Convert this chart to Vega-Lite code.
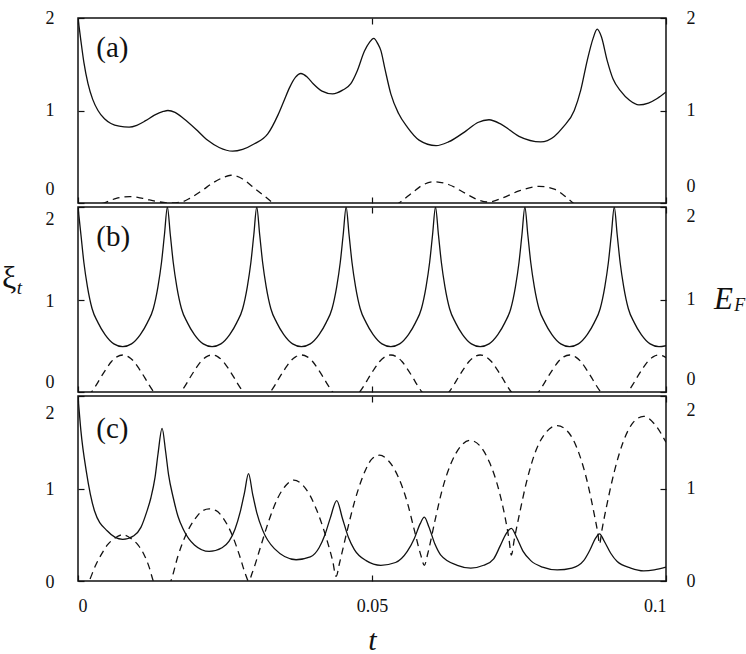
{
  "$schema": "https://vega.github.io/schema/vega-lite/v6.json",
  "background": "white",
  "padding": {"left": 1, "top": 8, "right": 0, "bottom": 0},
  "spacing": 0,
  "config": {
    "font": "Times New Roman, Liberation Serif, serif",
    "view": {"stroke": "#111", "strokeWidth": 1.5},
    "axis": {"domain": false, "grid": false, "tickColor": "#111", "tickWidth": 1.2, "tickSize": -6, "labelFont": "Times New Roman, Liberation Serif, serif", "labelFontSize": 18, "labelColor": "#111", "titleFont": "Times New Roman, Liberation Serif, serif", "titleColor": "#111"},
    "text": {"color": "#111", "font": "Times New Roman, Liberation Serif, serif"}
  },
  "datasets": {
    "a_xi": [
      {"t":0,"v":2},{"t":0.0005,"v":1.75},{"t":0.001,"v":1.52},{"t":0.0017,"v":1.29},{"t":0.0025,"v":1.12},{"t":0.0034,"v":1.0},{"t":0.0045,"v":0.91},{"t":0.0056,"v":0.86},{"t":0.007,"v":0.83},{"t":0.0087,"v":0.82},{"t":0.01,"v":0.84},{"t":0.0115,"v":0.89},{"t":0.013,"v":0.95},{"t":0.0145,"v":0.99},{"t":0.0153,"v":1.0},{"t":0.0165,"v":0.98},{"t":0.018,"v":0.91},{"t":0.02,"v":0.8},{"t":0.022,"v":0.68},{"t":0.024,"v":0.6},{"t":0.0263,"v":0.56},{"t":0.028,"v":0.58},{"t":0.03,"v":0.64},{"t":0.0323,"v":0.75},{"t":0.034,"v":0.95},{"t":0.035,"v":1.1},{"t":0.036,"v":1.25},{"t":0.037,"v":1.36},{"t":0.0379,"v":1.4},{"t":0.039,"v":1.36},{"t":0.04,"v":1.29},{"t":0.0415,"v":1.21},{"t":0.0433,"v":1.18},{"t":0.045,"v":1.22},{"t":0.0464,"v":1.29},{"t":0.0475,"v":1.43},{"t":0.0487,"v":1.64},{"t":0.0496,"v":1.74},{"t":0.0503,"v":1.78},{"t":0.051,"v":1.72},{"t":0.0515,"v":1.65},{"t":0.0522,"v":1.45},{"t":0.0532,"v":1.18},{"t":0.0545,"v":0.97},{"t":0.056,"v":0.82},{"t":0.058,"v":0.68},{"t":0.0609,"v":0.62},{"t":0.063,"v":0.66},{"t":0.066,"v":0.78},{"t":0.068,"v":0.87},{"t":0.0699,"v":0.9},{"t":0.072,"v":0.85},{"t":0.075,"v":0.72},{"t":0.0787,"v":0.66},{"t":0.081,"v":0.72},{"t":0.0825,"v":0.82},{"t":0.0844,"v":1.0},{"t":0.0855,"v":1.22},{"t":0.0866,"v":1.54},{"t":0.0876,"v":1.78},{"t":0.0883,"v":1.88},{"t":0.089,"v":1.8},{"t":0.09,"v":1.54},{"t":0.091,"v":1.34},{"t":0.0923,"v":1.21},{"t":0.0938,"v":1.11},{"t":0.0954,"v":1.06},{"t":0.097,"v":1.08},{"t":0.0985,"v":1.13},{"t":0.1,"v":1.2}
    ],
    "a_ef": [
      {"t":0,"v":-0.06},{"t":0.002,"v":-0.03},{"t":0.0044,"v":0},{"t":0.0065,"v":0.05},{"t":0.0088,"v":0.07},{"t":0.011,"v":0.05},{"t":0.0135,"v":0.015},{"t":0.016,"v":0},{"t":0.0178,"v":0.015},{"t":0.019,"v":0.05},{"t":0.021,"v":0.13},{"t":0.023,"v":0.22},{"t":0.0245,"v":0.27},{"t":0.026,"v":0.3},{"t":0.028,"v":0.26},{"t":0.03,"v":0.16},{"t":0.0318,"v":0.07},{"t":0.0331,"v":0},{"t":0.035,"v":-0.12},{"t":0.04,"v":-0.25},{"t":0.045,"v":-0.25},{"t":0.05,"v":-0.14},{"t":0.0546,"v":0},{"t":0.057,"v":0.12},{"t":0.0585,"v":0.19},{"t":0.0606,"v":0.23},{"t":0.063,"v":0.2},{"t":0.066,"v":0.1},{"t":0.068,"v":0.035},{"t":0.0699,"v":0.01},{"t":0.072,"v":0.05},{"t":0.075,"v":0.13},{"t":0.0784,"v":0.18},{"t":0.081,"v":0.15},{"t":0.0825,"v":0.09},{"t":0.0842,"v":0},{"t":0.087,"v":-0.12},{"t":0.093,"v":-0.25},{"t":0.1,"v":-0.2}
    ],
    "b_xi": [
      {"t":0,"v":2},{"t":0.0005,"v":1.7},{"t":0.001,"v":1.4},{"t":0.0016,"v":1.14},{"t":0.0024,"v":0.9},{"t":0.0034,"v":0.75},{"t":0.0046,"v":0.62},{"t":0.0061,"v":0.52},{"t":0.0076,"v":0.49},{"t":0.0091,"v":0.52},{"t":0.0106,"v":0.62},{"t":0.0118,"v":0.75},{"t":0.0128,"v":0.9},{"t":0.0136,"v":1.14},{"t":0.0142,"v":1.4},{"t":0.0147,"v":1.7},{"t":0.0152,"v":2},
      {"t":0.0157,"v":1.7},{"t":0.0162,"v":1.4},{"t":0.0168,"v":1.14},{"t":0.0176,"v":0.9},{"t":0.0186,"v":0.75},{"t":0.0198,"v":0.62},{"t":0.0213,"v":0.52},{"t":0.0228,"v":0.49},{"t":0.0243,"v":0.52},{"t":0.0258,"v":0.62},{"t":0.027,"v":0.75},{"t":0.028,"v":0.9},{"t":0.0288,"v":1.14},{"t":0.0294,"v":1.4},{"t":0.0299,"v":1.7},{"t":0.0304,"v":2},
      {"t":0.0309,"v":1.7},{"t":0.0314,"v":1.4},{"t":0.032,"v":1.14},{"t":0.0328,"v":0.9},{"t":0.0338,"v":0.75},{"t":0.035,"v":0.62},{"t":0.0365,"v":0.52},{"t":0.038,"v":0.49},{"t":0.0395,"v":0.52},{"t":0.041,"v":0.62},{"t":0.0422,"v":0.75},{"t":0.0432,"v":0.9},{"t":0.044,"v":1.14},{"t":0.0446,"v":1.4},{"t":0.0451,"v":1.7},{"t":0.0456,"v":2},
      {"t":0.0461,"v":1.7},{"t":0.0466,"v":1.4},{"t":0.0472,"v":1.14},{"t":0.048,"v":0.9},{"t":0.049,"v":0.75},{"t":0.0502,"v":0.62},{"t":0.0517,"v":0.52},{"t":0.0532,"v":0.49},{"t":0.0547,"v":0.52},{"t":0.0562,"v":0.62},{"t":0.0574,"v":0.75},{"t":0.0584,"v":0.9},{"t":0.0592,"v":1.14},{"t":0.0598,"v":1.4},{"t":0.0603,"v":1.7},{"t":0.0608,"v":2},
      {"t":0.0613,"v":1.7},{"t":0.0618,"v":1.4},{"t":0.0624,"v":1.14},{"t":0.0632,"v":0.9},{"t":0.0642,"v":0.75},{"t":0.0654,"v":0.62},{"t":0.0669,"v":0.52},{"t":0.0684,"v":0.49},{"t":0.0699,"v":0.52},{"t":0.0714,"v":0.62},{"t":0.0726,"v":0.75},{"t":0.0736,"v":0.9},{"t":0.0744,"v":1.14},{"t":0.075,"v":1.4},{"t":0.0755,"v":1.7},{"t":0.076,"v":2},
      {"t":0.0765,"v":1.7},{"t":0.077,"v":1.4},{"t":0.0776,"v":1.14},{"t":0.0784,"v":0.9},{"t":0.0794,"v":0.75},{"t":0.0806,"v":0.62},{"t":0.0821,"v":0.52},{"t":0.0836,"v":0.49},{"t":0.0851,"v":0.52},{"t":0.0866,"v":0.62},{"t":0.0878,"v":0.75},{"t":0.0888,"v":0.9},{"t":0.0896,"v":1.14},{"t":0.0902,"v":1.4},{"t":0.0907,"v":1.7},{"t":0.0912,"v":2},
      {"t":0.0917,"v":1.7},{"t":0.0922,"v":1.4},{"t":0.0928,"v":1.14},{"t":0.0936,"v":0.9},{"t":0.0946,"v":0.75},{"t":0.0958,"v":0.62},{"t":0.0973,"v":0.52},{"t":0.0988,"v":0.49},{"t":0.1,"v":0.5}
    ],
    "b_ef": [
      {"t":0,"v":-0.11},{"t":0.0023,"v":0},{"t":0.0032,"v":0.085},{"t":0.0038,"v":0.15},{"t":0.0048,"v":0.25},{"t":0.0057,"v":0.33},{"t":0.0066,"v":0.38},{"t":0.0076,"v":0.4},{"t":0.0086,"v":0.38},{"t":0.0095,"v":0.33},{"t":0.0104,"v":0.25},{"t":0.0114,"v":0.15},{"t":0.012,"v":0.085},{"t":0.0129,"v":0},{"t":0.0152,"v":-0.11},
      {"t":0.0175,"v":0},{"t":0.0184,"v":0.085},{"t":0.019,"v":0.15},{"t":0.02,"v":0.25},{"t":0.0209,"v":0.33},{"t":0.0218,"v":0.38},{"t":0.0228,"v":0.4},{"t":0.0238,"v":0.38},{"t":0.0247,"v":0.33},{"t":0.0256,"v":0.25},{"t":0.0266,"v":0.15},{"t":0.0272,"v":0.085},{"t":0.0281,"v":0},{"t":0.0304,"v":-0.11},
      {"t":0.0327,"v":0},{"t":0.0336,"v":0.085},{"t":0.0342,"v":0.15},{"t":0.0352,"v":0.25},{"t":0.0361,"v":0.33},{"t":0.037,"v":0.38},{"t":0.038,"v":0.4},{"t":0.039,"v":0.38},{"t":0.0399,"v":0.33},{"t":0.0408,"v":0.25},{"t":0.0418,"v":0.15},{"t":0.0424,"v":0.085},{"t":0.0433,"v":0},{"t":0.0456,"v":-0.11},
      {"t":0.0479,"v":0},{"t":0.0488,"v":0.085},{"t":0.0494,"v":0.15},{"t":0.0504,"v":0.25},{"t":0.0513,"v":0.33},{"t":0.0522,"v":0.38},{"t":0.0532,"v":0.4},{"t":0.0542,"v":0.38},{"t":0.0551,"v":0.33},{"t":0.056,"v":0.25},{"t":0.057,"v":0.15},{"t":0.0576,"v":0.085},{"t":0.0585,"v":0},{"t":0.0608,"v":-0.11},
      {"t":0.0631,"v":0},{"t":0.064,"v":0.085},{"t":0.0646,"v":0.15},{"t":0.0656,"v":0.25},{"t":0.0665,"v":0.33},{"t":0.0674,"v":0.38},{"t":0.0684,"v":0.4},{"t":0.0694,"v":0.38},{"t":0.0703,"v":0.33},{"t":0.0712,"v":0.25},{"t":0.0722,"v":0.15},{"t":0.0728,"v":0.085},{"t":0.0737,"v":0},{"t":0.076,"v":-0.11},
      {"t":0.0783,"v":0},{"t":0.0792,"v":0.085},{"t":0.0798,"v":0.15},{"t":0.0808,"v":0.25},{"t":0.0817,"v":0.33},{"t":0.0826,"v":0.38},{"t":0.0836,"v":0.4},{"t":0.0846,"v":0.38},{"t":0.0855,"v":0.33},{"t":0.0864,"v":0.25},{"t":0.0874,"v":0.15},{"t":0.088,"v":0.085},{"t":0.0889,"v":0},{"t":0.0912,"v":-0.11},
      {"t":0.0935,"v":0},{"t":0.0944,"v":0.085},{"t":0.095,"v":0.15},{"t":0.096,"v":0.25},{"t":0.0969,"v":0.33},{"t":0.0978,"v":0.38},{"t":0.0988,"v":0.4},{"t":0.0998,"v":0.38},{"t":0.1,"v":0.37}
    ],
    "c_xi": [
      {"t":0,"v":2},{"t":0.0005,"v":1.62},{"t":0.0014,"v":1.19},{"t":0.0028,"v":0.76},{"t":0.005,"v":0.54},{"t":0.0076,"v":0.45},{"t":0.0095,"v":0.49},{"t":0.0107,"v":0.58},{"t":0.0117,"v":0.75},{"t":0.0124,"v":0.9},{"t":0.0131,"v":1.12},{"t":0.0136,"v":1.37},{"t":0.0143,"v":1.65},{"t":0.0149,"v":1.4},{"t":0.0154,"v":1.15},{"t":0.0162,"v":0.9},{"t":0.017,"v":0.7},{"t":0.0179,"v":0.56},{"t":0.0198,"v":0.39},{"t":0.0223,"v":0.32},{"t":0.0245,"v":0.36},{"t":0.0257,"v":0.43},{"t":0.0267,"v":0.56},{"t":0.0276,"v":0.75},{"t":0.0283,"v":0.95},{"t":0.029,"v":1.16},{"t":0.0297,"v":0.94},{"t":0.0304,"v":0.74},{"t":0.0314,"v":0.55},{"t":0.0334,"v":0.35},{"t":0.0371,"v":0.23},{"t":0.0395,"v":0.26},{"t":0.041,"v":0.36},{"t":0.042,"v":0.5},{"t":0.0429,"v":0.68},{"t":0.044,"v":0.87},{"t":0.045,"v":0.67},{"t":0.046,"v":0.47},{"t":0.047,"v":0.34},{"t":0.049,"v":0.22},{"t":0.0515,"v":0.17},{"t":0.054,"v":0.2},{"t":0.056,"v":0.32},{"t":0.0572,"v":0.46},{"t":0.0582,"v":0.62},{"t":0.0589,"v":0.69},{"t":0.0597,"v":0.58},{"t":0.0607,"v":0.4},{"t":0.0617,"v":0.28},{"t":0.0645,"v":0.17},{"t":0.0668,"v":0.14},{"t":0.069,"v":0.17},{"t":0.0707,"v":0.24},{"t":0.0718,"v":0.38},{"t":0.0728,"v":0.51},{"t":0.0737,"v":0.57},{"t":0.0746,"v":0.47},{"t":0.0757,"v":0.32},{"t":0.077,"v":0.22},{"t":0.079,"v":0.15},{"t":0.0815,"v":0.12},{"t":0.084,"v":0.14},{"t":0.086,"v":0.22},{"t":0.0871,"v":0.34},{"t":0.088,"v":0.46},{"t":0.0887,"v":0.51},{"t":0.0895,"v":0.43},{"t":0.0906,"v":0.3},{"t":0.0917,"v":0.21},{"t":0.094,"v":0.14},{"t":0.0962,"v":0.11},{"t":0.098,"v":0.12},{"t":0.1,"v":0.15}
    ],
    "c_ef": [
      {"t":0,"v":-0.2},{"t":0.0019,"v":0},{"t":0.003,"v":0.17},{"t":0.004,"v":0.29},{"t":0.005,"v":0.39},{"t":0.0062,"v":0.46},{"t":0.0076,"v":0.5},{"t":0.009,"v":0.46},{"t":0.0102,"v":0.39},{"t":0.0112,"v":0.29},{"t":0.0121,"v":0.15},{"t":0.0128,"v":0},{"t":0.0143,"v":-0.15},
      {"t":0.0158,"v":0},{"t":0.017,"v":0.27},{"t":0.0185,"v":0.52},{"t":0.02,"v":0.68},{"t":0.0212,"v":0.76},{"t":0.0223,"v":0.78},{"t":0.0235,"v":0.76},{"t":0.0248,"v":0.67},{"t":0.0262,"v":0.5},{"t":0.0275,"v":0.27},{"t":0.0285,"v":0.07},{"t":0.029,"v":0},
      {"t":0.0297,"v":0.1},{"t":0.031,"v":0.36},{"t":0.0325,"v":0.66},{"t":0.034,"v":0.9},{"t":0.0353,"v":1.03},{"t":0.0367,"v":1.09},{"t":0.038,"v":1.05},{"t":0.0395,"v":0.92},{"t":0.041,"v":0.7},{"t":0.0423,"v":0.45},{"t":0.0433,"v":0.22},{"t":0.0439,"v":0.05},
      {"t":0.0445,"v":0.2},{"t":0.0458,"v":0.55},{"t":0.047,"v":0.85},{"t":0.0485,"v":1.14},{"t":0.05,"v":1.32},{"t":0.0513,"v":1.36},{"t":0.0528,"v":1.3},{"t":0.0545,"v":1.12},{"t":0.056,"v":0.85},{"t":0.0572,"v":0.55},{"t":0.0583,"v":0.28},{"t":0.0589,"v":0.17},
      {"t":0.0595,"v":0.3},{"t":0.0607,"v":0.65},{"t":0.062,"v":1.0},{"t":0.0635,"v":1.28},{"t":0.065,"v":1.45},{"t":0.0667,"v":1.52},{"t":0.0685,"v":1.45},{"t":0.07,"v":1.28},{"t":0.0715,"v":1.0},{"t":0.0726,"v":0.7},{"t":0.0733,"v":0.45},{"t":0.0737,"v":0.28},
      {"t":0.0742,"v":0.45},{"t":0.075,"v":0.7},{"t":0.0762,"v":1.05},{"t":0.0777,"v":1.38},{"t":0.0795,"v":1.6},{"t":0.0815,"v":1.68},{"t":0.0835,"v":1.6},{"t":0.0852,"v":1.38},{"t":0.0867,"v":1.05},{"t":0.0878,"v":0.72},{"t":0.0884,"v":0.52},{"t":0.0887,"v":0.4},
      {"t":0.0891,"v":0.55},{"t":0.09,"v":0.84},{"t":0.0912,"v":1.18},{"t":0.0927,"v":1.5},{"t":0.0945,"v":1.72},{"t":0.0962,"v":1.78},{"t":0.098,"v":1.7},{"t":0.1,"v":1.5}
    ]
  },
  "vconcat": [
    {
      "width": 588,
      "height": 185,
      "layer": [
        {
          "data": {"name": "a_xi"},
          "mark": {"type": "line", "interpolate": "monotone", "clip": true, "color": "#111", "strokeWidth": 1.3},
          "encoding": {
            "x": {"field": "t", "type": "quantitative", "scale": {"domain": [0, 0.1], "nice": false, "zero": false}, "axis": {"orient": "bottom", "values": [0, 0.05, 0.1], "labels": false, "title": null}},
            "y": {"field": "v", "type": "quantitative", "scale": {"domain": [0, 2], "nice": false}, "axis": {"orient": "left", "values": [0, 1, 2], "format": "~g", "labelPadding": 30, "title": null, "labelOffset": {"condition": {"test": "datum.value === 0", "value": -14}, "value": 0}}}
          }
        },
        {
          "data": {"name": "a_ef"},
          "mark": {"type": "line", "interpolate": "monotone", "clip": true, "color": "#111", "strokeWidth": 1.3, "strokeDash": [7, 5]},
          "encoding": {
            "x": {"field": "t", "type": "quantitative", "scale": {"domain": [0, 0.1], "nice": false, "zero": false}, "axis": {"orient": "top", "values": [0, 0.05, 0.1], "labels": false, "title": null}},
            "y": {"field": "v", "type": "quantitative", "scale": {"domain": [0, 2], "nice": false}, "axis": {"orient": "right", "values": [0, 1, 2], "format": "~g", "labelPadding": 26, "title": null, "labelOffset": {"condition": {"test": "datum.value === 0", "value": -17}, "value": 0}}}
          }
        },
        {
          "data": {"values": [{}]},
          "mark": {"type": "text", "align": "left", "baseline": "middle", "fontSize": 29},
          "encoding": {
            "x": {"datum": 0.0031, "type": "quantitative", "scale": {"domain": [0, 0.1], "nice": false, "zero": false}, "axis": null},
            "y": {"datum": 1.68, "type": "quantitative", "scale": {"domain": [0, 2], "nice": false}, "axis": null},
            "text": {"value": "(a)"}
          }
        }
      ],
      "resolve": {"axis": {"x": "independent", "y": "independent"}}
    },
    {
      "width": 588,
      "height": 185,
      "layer": [
        {
          "data": {"name": "b_xi"},
          "mark": {"type": "line", "interpolate": "monotone", "clip": true, "color": "#111", "strokeWidth": 1.3},
          "encoding": {
            "x": {"field": "t", "type": "quantitative", "scale": {"domain": [0, 0.1], "nice": false, "zero": false}, "axis": {"orient": "bottom", "values": [0, 0.05, 0.1], "labels": false, "title": null}},
            "y": {"field": "v", "type": "quantitative", "scale": {"domain": [0, 2], "nice": false}, "axis": {"orient": "left", "values": [0, 1, 2], "format": "~g", "labelPadding": 30, "title": null, "labelOffset": {"condition": [{"test": "datum.value === 0", "value": -10}, {"test": "datum.value === 2", "value": 12}], "value": 2}}}
          }
        },
        {
          "data": {"name": "b_ef"},
          "mark": {"type": "line", "interpolate": "monotone", "clip": true, "color": "#111", "strokeWidth": 1.3, "strokeDash": [7, 5]},
          "encoding": {
            "x": {"field": "t", "type": "quantitative", "scale": {"domain": [0, 0.1], "nice": false, "zero": false}, "axis": {"orient": "top", "values": [0, 0.05, 0.1], "labels": false, "title": null}},
            "y": {"field": "v", "type": "quantitative", "scale": {"domain": [0, 2], "nice": false}, "axis": {"orient": "right", "values": [0, 1, 2], "format": "~g", "labelPadding": 26, "title": null, "labelOffset": {"condition": [{"test": "datum.value === 0", "value": -13}, {"test": "datum.value === 2", "value": 9}], "value": 0}}}
          }
        },
        {
          "data": {"values": [{}]},
          "mark": {"type": "text", "align": "left", "baseline": "middle", "fontSize": 29},
          "encoding": {
            "x": {"datum": 0.0031, "type": "quantitative", "scale": {"domain": [0, 0.1], "nice": false, "zero": false}, "axis": null},
            "y": {"datum": 1.68, "type": "quantitative", "scale": {"domain": [0, 2], "nice": false}, "axis": null},
            "text": {"value": "(b)"}
          }
        },
        {
          "data": {"values": [{}]},
          "mark": {"type": "text", "align": "left", "baseline": "alphabetic", "fontSize": 32},
          "encoding": {
            "x": {"datum": -0.01293, "type": "quantitative", "scale": {"domain": [0, 0.1], "nice": false, "zero": false}, "axis": null},
            "y": {"datum": 1.12, "type": "quantitative", "scale": {"domain": [0, 2], "nice": false}, "axis": null},
            "text": {"value": "ξ"}
          }
        },
        {
          "data": {"values": [{}]},
          "mark": {"type": "text", "align": "left", "baseline": "alphabetic", "fontSize": 19, "fontStyle": "italic"},
          "encoding": {
            "x": {"datum": -0.0104, "type": "quantitative", "scale": {"domain": [0, 0.1], "nice": false, "zero": false}, "axis": null},
            "y": {"datum": 1.06, "type": "quantitative", "scale": {"domain": [0, 2], "nice": false}, "axis": null},
            "text": {"value": "t"}
          }
        },
        {
          "data": {"values": [{}]},
          "mark": {"type": "text", "align": "left", "baseline": "alphabetic", "fontSize": 31, "fontStyle": "italic"},
          "encoding": {
            "x": {"datum": 0.10816, "type": "quantitative", "scale": {"domain": [0, 0.1], "nice": false, "zero": false}, "axis": null},
            "y": {"datum": 0.9, "type": "quantitative", "scale": {"domain": [0, 2], "nice": false}, "axis": null},
            "text": {"value": "E"}
          }
        },
        {
          "data": {"values": [{}]},
          "mark": {"type": "text", "align": "left", "baseline": "alphabetic", "fontSize": 18, "fontStyle": "italic"},
          "encoding": {
            "x": {"datum": 0.1116, "type": "quantitative", "scale": {"domain": [0, 0.1], "nice": false, "zero": false}, "axis": null},
            "y": {"datum": 0.875, "type": "quantitative", "scale": {"domain": [0, 2], "nice": false}, "axis": null},
            "text": {"value": "F"}
          }
        }
      ],
      "resolve": {"axis": {"x": "independent", "y": "independent"}}
    },
    {
      "width": 588,
      "height": 185,
      "layer": [
        {
          "data": {"name": "c_xi"},
          "mark": {"type": "line", "interpolate": "monotone", "clip": true, "color": "#111", "strokeWidth": 1.3},
          "encoding": {
            "x": {"field": "t", "type": "quantitative", "scale": {"domain": [0, 0.1], "nice": false, "zero": false}, "axis": {"orient": "bottom", "values": [0, 0.05, 0.1], "format": "~g", "labelPadding": 22, "title": "t", "titleFontSize": 30, "titleFontStyle": "italic", "titleFontWeight": "normal", "titlePadding": 10}},
            "y": {"field": "v", "type": "quantitative", "scale": {"domain": [0, 2], "nice": false}, "axis": {"orient": "left", "values": [0, 1, 2], "format": "~g", "labelPadding": 30, "title": null, "labelOffset": {"condition": {"test": "datum.value === 2", "value": 17}, "value": 1}}}
          }
        },
        {
          "data": {"name": "c_ef"},
          "mark": {"type": "line", "interpolate": "monotone", "clip": true, "color": "#111", "strokeWidth": 1.3, "strokeDash": [7, 5]},
          "encoding": {
            "x": {"field": "t", "type": "quantitative", "scale": {"domain": [0, 0.1], "nice": false, "zero": false}, "axis": {"orient": "top", "values": [0, 0.05, 0.1], "labels": false, "title": null}},
            "y": {"field": "v", "type": "quantitative", "scale": {"domain": [0, 2], "nice": false}, "axis": {"orient": "right", "values": [0, 1, 2], "format": "~g", "labelPadding": 26, "title": null, "labelOffset": {"condition": {"test": "datum.value === 2", "value": 14}, "value": 0}}}
          }
        },
        {
          "data": {"values": [{}]},
          "mark": {"type": "text", "align": "left", "baseline": "middle", "fontSize": 29},
          "encoding": {
            "x": {"datum": 0.0031, "type": "quantitative", "scale": {"domain": [0, 0.1], "nice": false, "zero": false}, "axis": null},
            "y": {"datum": 1.64, "type": "quantitative", "scale": {"domain": [0, 2], "nice": false}, "axis": null},
            "text": {"value": "(c)"}
          }
        }
      ],
      "resolve": {"axis": {"x": "independent", "y": "independent"}}
    }
  ]
}
